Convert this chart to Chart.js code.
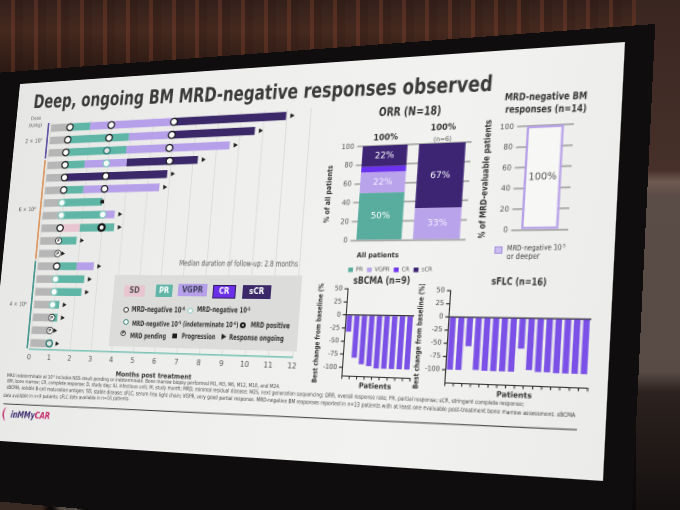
<!DOCTYPE html>
<html lang="en">
<head>
<meta charset="utf-8">
<title>Deep, ongoing BM MRD-negative responses observed</title>
<script src="https://cdn.jsdelivr.net/npm/chart.js@4.4.1/dist/chart.umd.min.js"></script>
<style>
html, body { margin: 0; padding: 0; }
body { position: relative; width: 680px; height: 510px; overflow: hidden;
  background: linear-gradient(180deg, #33201b 0px, #45291f 30px, #2c1a14 70px, #0c0a0a 120px, #0b0909 100%); }
.wall-top { position: absolute; left: 0; top: 0; width: 680px; height: 90px; opacity: 0.35;
  background: repeating-linear-gradient(90deg, rgba(120,60,40,0.0) 0px, rgba(120,60,40,0.0) 11px, rgba(140,70,45,0.9) 11px, rgba(140,70,45,0.9) 15px, rgba(40,20,15,0.6) 15px, rgba(40,20,15,0.6) 23px); }
.wall-right { position: absolute; left: 636px; top: 0; width: 44px; height: 510px;
  background: linear-gradient(180deg, #3a2621 0px, #47302a 170px, #6f5a51 182px, #5a4c47 196px, #584a45 372px, #2c221e 392px, #141010 510px); }
.head { position: absolute; border-radius: 50%; filter: blur(2px); }
#slide { position: absolute; left: 0; top: 0; width: 610px; height: 400px; transform-origin: 0 0; }
#frame { position: absolute; left: -70px; top: -15px; width: 704px; height: 480px; background: #0f0d0d; }
#paper { position: absolute; left: 0; top: 0; width: 610px; height: 400px; overflow: hidden;
  background: linear-gradient(100deg, #e6e6e4 0%, #eeeeec 35%, #f2f2f0 70%, #ebebe9 100%);
  font-family: "DejaVu Sans Condensed", "DejaVu Sans", sans-serif; color: #333; }
#paper canvas { position: absolute; left: 0; top: 0; }
.t { position: absolute; white-space: nowrap; line-height: 1; font-size: 10px; }
.t sup { font-size: 0.62em; line-height: 0; vertical-align: 0.5em; }
.b { font-weight: bold; }
.box { position: absolute; box-sizing: border-box; }
.chip { position: absolute; box-sizing: border-box; display: flex; align-items: center; justify-content: center; font-size: 8px; font-weight: bold; }
.ico { position: absolute; width: 6px; height: 6px; border-radius: 50%; background: #fff; box-sizing: border-box; }
.rule { position: absolute; height: 1.3px; background: #3c3c3c; transform-origin: 0 0; }
</style>
</head>
<body>
<div class="wall-top"></div>
<div class="wall-right"></div>
<div class="head" style="left:-8px;top:466px;width:56px;height:60px;background:#3a2a24"></div>
<div class="head" style="left:54px;top:478px;width:30px;height:40px;background:#544b45"></div>
<div class="head" style="left:116px;top:470px;width:38px;height:44px;background:#7d6e58"></div>
<div class="head" style="left:152px;top:484px;width:32px;height:36px;background:#2d2420"></div>
<div class="head" style="left:222px;top:472px;width:34px;height:34px;background:#2a201c"></div>
<div class="head" style="left:330px;top:472px;width:270px;height:70px;background:#34251c;filter:blur(6px)"></div>
<div class="head" style="left:420px;top:480px;width:90px;height:45px;background:#4e3828;filter:blur(6px)"></div>

<div id="slide">
  <div id="frame"></div>
  <div id="paper">
    <div class="t b" style="color:#3a3a3a" data-s="0.82" data-a="33.3,108.3,492,91">Deep, ongoing BM MRD-negative responses observed</div>

    <canvas id="swim"></canvas>
    <div class="t" style="color:#555" data-s="0.8" data-a="179.3,265.5,298.3,266.5">Median duration of follow-up: 2.8 months</div>
    <div class="box" style="background:#dcdcdb" data-b="115,275,296.7,352"></div>
    <div class="chip" style="background:#e8c5d0;color:#555" data-b="125,285,144,296.7">SD</div>
    <div class="chip" style="background:#5fb5a6;color:#fff" data-b="156.7,284.3,171.7,296.7">PR</div>
    <div class="chip" style="background:#b7a0ea;color:#3d3d5a" data-b="178.3,284,206.7,296.7">VGPR</div>
    <div class="chip" style="background:#6a2fe6;color:#fff;border:1px solid #2e1c5c" data-b="213.3,285,235,298.3">CR</div>
    <div class="chip" style="background:#3a2868;color:#fff" data-b="242.7,285,270.7,299">sCR</div>

    <div class="ico" style="border:1.4px solid #1e1e1e" data-c="126,309.3"></div>
    <div class="t b" data-s="0.75" data-a="131.7,312,185,313">MRD-negative 10<sup>-6</sup></div>
    <div class="ico" style="border:1.4px solid #7fcabd" data-c="190,310.3"></div>
    <div class="t b" data-s="0.75" data-a="196.7,312.3,250,313.5">MRD-negative 10<sup>-5</sup></div>
    <div class="ico" style="border:1.6px solid #2c7c76" data-c="126,321.7"></div>
    <div class="t b" data-s="0.75" data-a="131.7,326,238.3,327.5">MRD-negative 10<sup>-5</sup> (indeterminate 10<sup>-6</sup>)</div>
    <div class="ico" style="border:2.2px solid #151515" data-c="243.3,325"></div>
    <div class="t b" data-s="0.75" data-a="250,328,289.3,329">MRD positive</div>
    <div class="ico" style="border:1px solid #333;font-size:4.4px;line-height:4px;text-align:center;font-weight:bold;color:#333" data-c="123.3,333.3">P</div>
    <div class="t b" data-s="0.75" data-a="130,338.5,166,339">MRD pending</div>
    <div class="ico" style="border-radius:0;width:5px;height:5px;background:#1e1e1e" data-c="175,335.5"></div>
    <div class="t b" data-s="0.75" data-a="181,339.5,215,340.3">Progression</div>
    <div class="ico" style="border-radius:0;width:0;height:0;background:none;border-top:3px solid transparent;border-bottom:3px solid transparent;border-left:5px solid #1e1e1e" data-c="224,336.5"></div>
    <div class="t b" data-s="0.75" data-a="229.3,340.5,284,342">Response ongoing</div>

    <div class="t b" style="color:#333" data-s="0.8" data-a="378,116.5,440,115">ORR (N=18)</div>
    <canvas id="orr"></canvas>

    <div class="t b" style="color:#333" data-s="0.8" data-a="505,100.5,588,99">MRD-negative BM</div>
    <div class="t b" style="color:#333" data-s="0.8" data-a="505,113.5,587,112.3">responses (n=14)</div>
    <canvas id="mrd"></canvas>
    <div class="box" style="background:#cbbcf0;border:1px solid #a993e2" data-b="495,246.7,502,253.3"></div>
    <div class="t" style="color:#444" data-s="0.85" data-a="506.7,251,565,250">MRD-negative 10<sup>-5</sup></div>
    <div class="t" style="color:#444" data-s="0.85" data-a="506.7,259.5,540,259">or deeper</div>

    <div class="t b" style="color:#333" data-s="0.8" data-a="353.3,284.5,410,284.5">sBCMA (n=9)</div>
    <canvas id="bcma"></canvas>
    <div class="t b" style="color:#333" data-s="0.8" data-a="491.7,285,547.3,286">sFLC (n=16)</div>
    <canvas id="flc"></canvas>

    <div class="t" style="color:#444" data-s="0.85" data-a="6.7,377.5,280,389">MRD indeterminate at 10<sup>-6</sup> includes NGS result pending or indeterminate. Bone marrow biopsy performed M1, M3, M6, M12, M18, and M24.</div>
    <div class="t" style="color:#444" data-s="0.85" data-a="6.7,383.5,525,407.5">BM, bone marrow; CR, complete response; D, study day; IU, infectious unit; M, study month; MRD, minimal residual disease; NGS, next generation sequencing; ORR, overall response rate; PR, partial response; sCR, stringent complete response;</div>
    <div class="t" style="color:#444" data-s="0.85" data-a="6.7,390,576.7,419">sBCMA, soluble B-cell maturation antigen; SD, stable disease; sFLC, serum free light chain; VGPR, very good partial response. MRD-negative BM responses reported in n=13 patients with at least one evaluable post-treatment bone marrow assessment. sBCMA</div>
    <div class="t" style="color:#444" data-s="0.85" data-a="3.3,397.5,130,401">data available in n=9 patients; sFLC data available in n=16 patients.</div>
    <div class="rule" data-l="3.3,403.5,576.7,429.5"></div>
    <div class="box" style="border-left:2px solid #c8407a;border-radius:50%" data-b="3.3,406.7,10,421.7"></div>
    <div class="t b" style="font-style:italic" data-s="0.85" data-a="10.5,418.5,50,420"><span style="color:#3b2a6e">inMMy</span><span style="color:#c4286a">CAR</span></div>
  </div>
</div>

<script>
// ---------- swimmer plot (months post treatment, one row per patient) ----------
const rowIds = ['1', '2', '3', '4', '5', '6', '7', '8', '9', '10', '11', '12', '13', '14', '15', '16', '17', '18'];
const monthTicks = [0, 1, 2, 3, 4, 5, 6, 7, 8, 9, 10, 11, 12];
const preResponse = [0.97, 0.92, 0.88, 0.9, 0.93, 0.95, 0.92, 0.95, 0.95, 0.93, 0.95, 0.96, 0.96, 0.95, 0.93, 0.95, 0.92, 0.95];
const sdMonths = [0, 0, 0, 0, 0, 0, 0, 0, 0.97, 0, 0, 0, 0, 0, 0, 0, 0, 0];
const prMonths = [1.0, 2.98, 2.95, 0.97, 0, 0.97, 1.98, 2.03, 1.66, 0.89, 0, 0.98, 1.41, 1.34, 0.33, 0.28, 0, 0.13];
const vgprMonths = [4.03, 2.07, 4.76, 2.03, 0, 3.63, 0, 0.57, 0, 0, 0, 0.83, 0, 0, 0, 0, 0, 0];
const crMonths = [0, 0, 0, 0, 0, 0, 0, 0, 0, 0, 0, 0, 0, 0, 0, 0, 0, 0];
const scrMonths = [4.96, 3.68, 0, 3.31, 4.93, 0, 0, 0, 0, 0, 0, 0, 0, 0, 0, 0, 0, 0];
const ongoing = [1, 1, 1, 1, 1, 1, 0, 1, 1, 1, 1, 1, 1, 1, 1, 1, 1, 1];

// MRD assessments: [month, row]
const mrdNeg6 = [[0.97, 1], [3.0, 1], [5.97, 1], [0.92, 2], [2.95, 2], [5.92, 2], [0.88, 3], [5.86, 3],
  [0.9, 4], [5.92, 4], [0.93, 5], [2.95, 5], [0.95, 6], [2.95, 6], [0.95, 9], [0.96, 12]];
const mrdNeg5 = [[2.93, 4], [0.92, 7], [0.95, 8], [2.98, 8], [0.96, 13], [0.95, 14], [0.93, 15]];
const mrdIndet = [[2.9, 3], [0.95, 18]];
const mrdPositive = [[2.98, 9]];
const mrdPending = [[0.93, 10], [0.95, 11], [0.95, 16], [0.92, 17]];

const doseLabels = ['2 × 10⁷', '6 × 10⁶', '4 × 10⁶'];
const doseRowCounts = [3, 8, 7];

// ---------- ORR ----------
const orrGroups = [['All patients'], ['Patients with', '≥4 mo follow-up']];
const orrPR = [50, 0];
const orrVGPR = [22, 33];
const orrCR = [6, 0];
const orrSCR = [22, 67];
const orrTotals = ['100%', '100%'];
const orrNotes = ['', '(n=6)'];
const pctTicks = [0, 20, 40, 60, 80, 100];

// ---------- MRD-negative BM responses ----------
const mrdGroups = ['MRD-negative 10⁻⁵ or deeper'];
const mrdNegRate = [100];

// ---------- best change from baseline ----------
const bcmaPatients = ['1', '2', '3', '4', '5', '6', '7', '8', '9'];
const bcmaChange = [-32, -81, -93, -96, -100, -100, -100, -100, -100];
const flcPatients = ['1', '2', '3', '4', '5', '6', '7', '8', '9', '10', '11', '12', '13', '14', '15', '16'];
const flcChange = [-100, -100, -55, -99, -100, -100, -100, -100, -57, -96, -99, -99, -100, -100, -100, -100];
const changeTicks = [50, 25, 0, -25, -50, -75, -100];

// ---------- the slide is photographed at an angle: flat slide -> photo ----------
function adj(m) {
  return [m[4] * m[8] - m[5] * m[7], m[2] * m[7] - m[1] * m[8], m[1] * m[5] - m[2] * m[4],
    m[5] * m[6] - m[3] * m[8], m[0] * m[8] - m[2] * m[6], m[2] * m[3] - m[0] * m[5],
    m[3] * m[7] - m[4] * m[6], m[1] * m[6] - m[0] * m[7], m[0] * m[4] - m[1] * m[3]];
}
function mulMM(a, b) {
  const c = [];
  for (let i = 0; i < 3; i++) for (let j = 0; j < 3; j++) {
    let s = 0;
    for (let k = 0; k < 3; k++) s += a[3 * i + k] * b[3 * k + j];
    c[3 * i + j] = s;
  }
  return c;
}
function mulMV(m, v) {
  return [m[0] * v[0] + m[1] * v[1] + m[2] * v[2], m[3] * v[0] + m[4] * v[1] + m[5] * v[2], m[6] * v[0] + m[7] * v[1] + m[8] * v[2]];
}
function basis(p) {
  const m = [p[0][0], p[1][0], p[2][0], p[0][1], p[1][1], p[2][1], 1, 1, 1];
  const v = mulMV(adj(m), [p[3][0], p[3][1], 1]);
  return mulMM(m, [v[0], 0, 0, 0, v[1], 0, 0, 0, v[2]]);
}
const SW = 610, SH = 400;
// top-left, top-right, bottom-left, bottom-right of the slide in the photo
const corners = [[20, 84], [625, 42], [-15, 440], [603, 481]];
const T = mulMM(basis(corners), adj(basis([[0, 0], [SW, 0], [0, SH], [SW, SH]])));
const t8 = T[8];
for (let i = 0; i < 9; i++) T[i] = T[i] / t8;
const Tinv = adj(T);
function toFlat(px, py) {
  const v = mulMV(Tinv, [px, py, 1]);
  return { x: v[0] / v[2], y: v[1] / v[2] };
}
document.getElementById('slide').style.transform =
  'matrix3d(' + [T[0], T[3], 0, T[6], T[1], T[4], 0, T[7], 0, 0, 1, 0, T[2], T[5], 0, T[8]].join(',') + ')';

// place slide texts and boxes from where they sit in the photo
const nums = s => s.split(',').map(Number);
document.querySelectorAll('[data-a]').forEach(el => {
  const [x0, y0, x1, y1] = nums(el.dataset.a);
  const squeeze = Number(el.dataset.s || 1);
  const a = toFlat(x0, y0), b = toFlat(x1, y1);
  const len = Math.hypot(b.x - a.x, b.y - a.y);
  const f = 10 * len / (el.offsetWidth * squeeze);
  el.style.fontSize = f + 'px';
  el.style.left = a.x + 'px';
  el.style.top = (a.y - 0.85 * f) + 'px';
  el.style.transformOrigin = '0px ' + (0.85 * f) + 'px';
  el.style.transform = 'rotate(' + Math.atan2(b.y - a.y, b.x - a.x) + 'rad) scaleX(' + squeeze + ')';
});
document.querySelectorAll('[data-b]').forEach(el => {
  const [x0, y0, x1, y1] = nums(el.dataset.b);
  const a = toFlat(x0, y0), b = toFlat(x1, y1);
  Object.assign(el.style, { left: a.x + 'px', top: a.y + 'px', width: (b.x - a.x) + 'px', height: (b.y - a.y) + 'px' });
});
document.querySelectorAll('[data-c]').forEach(el => {
  const [x, y] = nums(el.dataset.c);
  const p = toFlat(x, y);
  el.style.left = (p.x - el.offsetWidth / 2) + 'px';
  el.style.top = (p.y - el.offsetHeight / 2) + 'px';
});
document.querySelectorAll('[data-l]').forEach(el => {
  const [x0, y0, x1, y1] = nums(el.dataset.l);
  const a = toFlat(x0, y0), b = toFlat(x1, y1);
  Object.assign(el.style, { left: a.x + 'px', top: a.y + 'px', width: Math.hypot(b.x - a.x, b.y - a.y) + 'px',
    transform: 'rotate(' + Math.atan2(b.y - a.y, b.x - a.x) + 'rad)' });
});

// size and move a canvas so its chart area lands on the given flat rectangle
function fitChart(id, make, area) {
  const cv = document.getElementById(id);
  const size = (w, h) => { cv.width = w; cv.height = h; cv.style.width = w + 'px'; cv.style.height = h + 'px'; };
  let w = Math.round(area.r - area.l + 60), h = Math.round(area.b - area.t + 60);
  size(w, h);
  let chart = new Chart(cv, make());
  let ca = chart.chartArea;
  w = Math.round(w + (area.r - area.l) - (ca.right - ca.left));
  h = Math.round(h + (area.b - area.t) - (ca.bottom - ca.top));
  chart.destroy();
  size(w, h);
  chart = new Chart(cv, make());
  ca = chart.chartArea;
  cv.style.left = (area.l - ca.left) + 'px';
  cv.style.top = (area.t - ca.top) + 'px';
  return chart;
}
const fx = (x, y) => toFlat(x, y).x;
const fy = (x, y) => toFlat(x, y).y;

// ---------- charts ----------
const FONT = '"DejaVu Sans Condensed", "DejaVu Sans", sans-serif';
Chart.defaults.font.family = FONT;
Chart.defaults.color = '#444';
Chart.defaults.animation = false;
Chart.defaults.responsive = false;
Chart.defaults.devicePixelRatio = 2;
Chart.defaults.plugins.tooltip.enabled = false;

const rowEnd = rowIds.map((_, i) => preResponse[i] + sdMonths[i] + prMonths[i] + vgprMonths[i] + crMonths[i] + scrMonths[i]);
const pts = list => list.map(([m, r]) => ({ x: m, y: rowIds[r - 1] }));
const arrowPts = rowIds.map((id, i) => ({ x: rowEnd[i] + 0.24, y: id })).filter((_, i) => ongoing[i]);
const progressPts = rowIds.map((id, i) => ({ x: rowEnd[i], y: id })).filter((_, i) => !ongoing[i]);

const swimExtras = {
  id: 'swimExtras',
  beforeDatasetsDraw(chart) {
    const { ctx, chartArea, scales: { y } } = chart;
    const half = (y.getPixelForValue(1) - y.getPixelForValue(0)) / 2;
    const colors = ['#4a3c9c', '#d98a4b', '#2e8a83'];
    const lx = chartArea.left - 19;
    ctx.save();
    ctx.textAlign = 'center';
    ctx.textBaseline = 'middle';
    ctx.fillStyle = '#555';
    ctx.font = '5.4px ' + FONT;
    ctx.fillText('Dose', lx, y.getPixelForValue(0) - 12);
    ctx.fillText('(IU/kg)', lx, y.getPixelForValue(0) - 4);
    let first = 0;
    doseRowCounts.forEach((n, i) => {
      const top = y.getPixelForValue(first) - half + 1;
      const bot = y.getPixelForValue(first + n - 1) + half - 1;
      ctx.strokeStyle = colors[i];
      ctx.lineWidth = 1.7;
      ctx.beginPath();
      ctx.moveTo(chartArea.left - 3, top);
      ctx.lineTo(chartArea.left - 3, bot);
      ctx.stroke();
      ctx.fillStyle = '#555';
      ctx.font = '6.2px ' + FONT;
      ctx.fillText(doseLabels[i], lx, (top + bot) / 2);
      first += n;
    });
    ctx.restore();
  },
  afterDatasetsDraw(chart) {
    const { ctx, scales } = chart;
    ctx.save();
    mrdPending.forEach(([m, r]) => {
      const x = scales.xm.getPixelForValue(m);
      const y = scales.y.getPixelForValue(r - 1);
      ctx.beginPath();
      ctx.arc(x, y, 3.6, 0, Math.PI * 2);
      ctx.fillStyle = '#fff';
      ctx.fill();
      ctx.lineWidth = 0.9;
      ctx.strokeStyle = '#333';
      ctx.stroke();
      ctx.fillStyle = '#333';
      ctx.font = 'bold 4.8px ' + FONT;
      ctx.textAlign = 'center';
      ctx.textBaseline = 'middle';
      ctx.fillText('P', x, y + 0.3);
    });
    ctx.restore();
  }
};

const bar = (label, data, color) => ({ type: 'bar', label, data, backgroundColor: color, order: 1, barPercentage: 0.6, categoryPercentage: 1 });
const ring = (data, border, width, fill) => ({
  type: 'scatter', xAxisID: 'xm', data: pts(data), order: 0,
  pointRadius: 3.7, pointBackgroundColor: fill || '#fff', pointBorderColor: border, pointBorderWidth: width
});

fitChart('swim', () => ({
  type: 'bar',
  data: {
    labels: rowIds,
    datasets: [
      bar('Before response', preResponse, '#b6b6b6'),
      bar('SD', sdMonths, '#e8c5d0'),
      bar('PR', prMonths, '#5fb5a6'),
      bar('VGPR', vgprMonths, '#b7a0ea'),
      bar('CR', crMonths, '#6a2fe6'),
      bar('sCR', scrMonths, '#3a2868'),
      ring(mrdNeg6, '#1e1e1e', 1.4),
      ring(mrdNeg5, '#7fcabd', 1.4),
      ring(mrdIndet, '#2c7c76', 1.6, '#e2e2e2'),
      { type: 'scatter', xAxisID: 'xm', data: pts(mrdPositive), order: 0, pointRadius: 3.5, pointBackgroundColor: '#fff', pointBorderColor: '#151515', pointBorderWidth: 2.5 },
      { type: 'scatter', xAxisID: 'xm', data: arrowPts, order: 0, pointStyle: 'triangle', rotation: 90, pointRadius: 2.9, pointBackgroundColor: '#1e1e1e', pointBorderColor: '#1e1e1e', pointBorderWidth: 0 },
      { type: 'scatter', xAxisID: 'xm', data: progressPts, order: 0, pointStyle: 'rect', pointRadius: 2.9, pointBackgroundColor: '#1e1e1e', pointBorderColor: '#1e1e1e', pointBorderWidth: 0 }
    ]
  },
  options: {
    indexAxis: 'y',
    layout: { padding: { left: 32, top: 16, right: 6 } },
    plugins: { legend: { display: false } },
    scales: {
      x: {
        type: 'linear', stacked: true, min: 0, max: 12,
        afterBuildTicks: s => { s.ticks = monthTicks.map(v => ({ value: v })); },
        grid: { color: '#d8d8d6', lineWidth: 0.8, drawTicks: false },
        border: { color: '#7ec5b8', width: 1.6 },
        ticks: { padding: 4, font: { size: 8 }, color: '#555' },
        title: { display: true, text: 'Months post treatment', font: { size: 7, weight: 'bold' }, color: '#333', padding: { top: 2, bottom: 0 } }
      },
      xm: { type: 'linear', min: 0, max: 12, display: false },
      y: { type: 'category', stacked: true, display: false }
    }
  },
  plugins: [swimExtras]
}), { l: fx(30, 349), r: fx(292.7, 357.3), t: fy(55, 122), b: (fy(30, 349) + fy(292.7, 357.3)) / 2 });

// ORR stacked bars
const orrLabels = {
  id: 'orrLabels',
  afterDatasetsDraw(chart) {
    const { ctx } = chart;
    ctx.save();
    ctx.textAlign = 'center';
    ctx.textBaseline = 'middle';
    chart.data.datasets.forEach((ds, di) => {
      chart.getDatasetMeta(di).data.forEach((el, i) => {
        if (ds.data[i] < 15) return;
        ctx.fillStyle = di === 1 ? '#f3efff' : '#ffffff';
        ctx.font = '9.2px ' + FONT;
        ctx.fillText(ds.data[i] + '%', el.x, (el.y + el.base) / 2);
      });
    });
    ctx.textBaseline = 'alphabetic';
    chart.getDatasetMeta(chart.data.datasets.length - 1).data.forEach((el, i) => {
      ctx.fillStyle = '#333';
      ctx.font = 'bold 8.4px ' + FONT;
      ctx.fillText(orrTotals[i], el.x, el.y - (orrNotes[i] ? 13 : 5.5));
      if (orrNotes[i]) {
        ctx.font = '6.4px ' + FONT;
        ctx.fillStyle = '#555';
        ctx.fillText(orrNotes[i], el.x, el.y - 1.8);
      }
    });
    ctx.restore();
  }
};

const pctAxis = (title, size) => ({
  min: 0, max: 100,
  afterBuildTicks: s => { s.ticks = pctTicks.map(v => ({ value: v })); },
  grid: { color: '#a9a9a9', lineWidth: 1.7, drawTicks: false },
  border: { display: false },
  ticks: { font: { size: 7.2 }, color: '#555', padding: 3 },
  title: { display: true, text: title, font: { size, weight: 'bold' }, color: '#333', padding: { top: 0, bottom: 2 } }
});

fitChart('orr', () => ({
  type: 'bar',
  data: {
    labels: orrGroups,
    datasets: [
      { label: 'PR', data: orrPR, backgroundColor: '#58ad9f' },
      { label: 'VGPR', data: orrVGPR, backgroundColor: '#b9a3ea' },
      { label: 'CR', data: orrCR, backgroundColor: '#6a31ee' },
      { label: 'sCR', data: orrSCR, backgroundColor: '#3d2574' }
    ]
  },
  options: {
    layout: { padding: { top: 24, right: 2 } },
    datasets: { bar: { barPercentage: 0.8, categoryPercentage: 1 } },
    plugins: {
      legend: { position: 'bottom', labels: { boxWidth: 4.5, boxHeight: 4.5, padding: 4, font: { size: 5.6 }, color: '#555' } }
    },
    scales: {
      x: { stacked: true, grid: { display: false }, border: { display: false },
        ticks: { font: { size: 6.8, weight: 'bold' }, color: '#333', padding: 3, maxRotation: 0 } },
      y: Object.assign(pctAxis('% of all patients', 7), { stacked: true })
    }
  },
  plugins: [orrLabels]
}), { l: fx(351, 232.5), r: fx(466, 231.7), t: (fy(351, 146.7) + fy(466, 142.7)) / 2, b: (fy(351, 232.7) + fy(466, 231.7)) / 2 });

// MRD-negative responses
const mrdLabel = {
  id: 'mrdLabel',
  afterDatasetsDraw(chart) {
    const { ctx } = chart;
    const el = chart.getDatasetMeta(0).data[0];
    ctx.save();
    ctx.fillStyle = '#555';
    ctx.font = '9.4px ' + FONT;
    ctx.textAlign = 'center';
    ctx.textBaseline = 'middle';
    ctx.fillText(mrdNegRate[0] + '%', el.x, (el.y + el.base) / 2);
    ctx.restore();
  }
};

fitChart('mrd', () => ({
  type: 'bar',
  data: {
    labels: mrdGroups,
    datasets: [{ data: mrdNegRate, backgroundColor: '#f7f7f6', borderColor: '#b8a2e8', borderWidth: 2.2, borderSkipped: false, barPercentage: 0.66, categoryPercentage: 1 }]
  },
  options: {
    layout: { padding: { top: 8, right: 3, bottom: 4 } },
    plugins: { legend: { display: false } },
    scales: {
      x: { display: false },
      y: pctAxis('% of MRD-evaluable patients', 7.8)
    }
  },
  plugins: [mrdLabel]
}), { l: fx(511, 230.7), r: fx(568, 230), t: (fy(511, 126.7) + fy(568, 125)) / 2, b: (fy(511, 230.7) + fy(568, 230)) / 2 });

// waterfall plots
function waterfall(id, labels, values, min, area) {
  fitChart(id, () => ({
    type: 'bar',
    data: { labels, datasets: [{ data: values, backgroundColor: '#7a50e6', barPercentage: 0.7, categoryPercentage: 1 }] },
    options: {
      layout: { padding: { top: 6, right: 3 } },
      plugins: { legend: { display: false } },
      scales: {
        x: {
          grid: { drawOnChartArea: false, tickLength: 3, color: '#333' },
          border: { color: '#333', width: 1 },
          ticks: { display: false },
          title: { display: true, text: 'Patients', font: { size: 7.2, weight: 'bold' }, color: '#333', padding: { top: 2, bottom: 0 } }
        },
        y: {
          min, max: 50,
          afterBuildTicks: s => { s.ticks = changeTicks.map(v => ({ value: v })); },
          grid: { color: c => (c.tick && c.tick.value === 0 ? '#333' : 'rgba(0,0,0,0)'), lineWidth: 1.2, tickLength: 3, tickColor: '#333' },
          border: { color: '#333', width: 1 },
          ticks: { font: { size: 6.6 }, color: '#444', padding: 2 },
          title: { display: true, text: 'Best change from baseline (%)', font: { size: 6.5, weight: 'bold' }, color: '#333', padding: { top: 0, bottom: 1 } }
        }
      }
    }
  }), area);
}
waterfall('bcma', bcmaPatients, bcmaChange, -116,
  { l: fx(341.7, 376), r: fx(410, 377), t: fy(341.7, 288.3), b: (fy(341.7, 376) + fy(410, 377)) / 2 });
waterfall('flc', flcPatients, flcChange, -125,
  { l: fx(445, 384), r: fx(588.3, 386.7), t: fy(445, 290.7), b: (fy(445, 384) + fy(588.3, 386.7)) / 2 });
</script>
</body>
</html>
